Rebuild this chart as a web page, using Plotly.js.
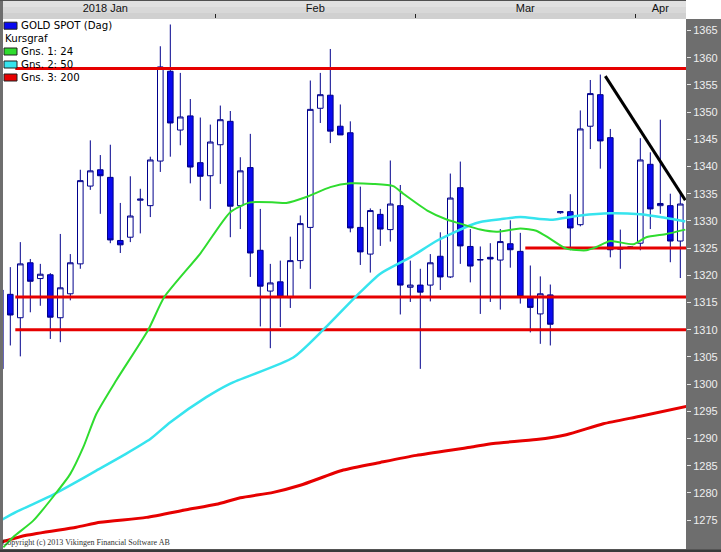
<!DOCTYPE html>
<html><head><meta charset="utf-8">
<script src="https://cdn.plot.ly/plotly-3.0.1.min.js"></script>
<style>html,body{margin:0;padding:0;background:#fff}#chart{width:721px;height:552px}</style>
</head><body><div id="chart"></div>
<script>
// ---- data ----
const dates = ['2018-01-02','2018-01-03','2018-01-04','2018-01-05','2018-01-08','2018-01-09','2018-01-10','2018-01-11','2018-01-12','2018-01-15','2018-01-16','2018-01-17','2018-01-18','2018-01-19','2018-01-22','2018-01-23','2018-01-24','2018-01-25','2018-01-26','2018-01-29','2018-01-30','2018-01-31',
'2018-02-01','2018-02-02','2018-02-05','2018-02-06','2018-02-07','2018-02-08','2018-02-09','2018-02-12','2018-02-13','2018-02-14','2018-02-15','2018-02-16','2018-02-19','2018-02-20','2018-02-21','2018-02-22','2018-02-23','2018-02-26','2018-02-27','2018-02-28',
'2018-03-01','2018-03-02','2018-03-05','2018-03-06','2018-03-07','2018-03-08','2018-03-09','2018-03-12','2018-03-13','2018-03-14','2018-03-15','2018-03-16','2018-03-19','2018-03-20','2018-03-21','2018-03-22','2018-03-23','2018-03-26','2018-03-27','2018-03-28','2018-03-29','2018-03-30',
'2018-04-02','2018-04-03','2018-04-04','2018-04-05','2018-04-06'];
const monthLabels = ['2018 Jan','Feb','Mar','Apr'];
const openP  = [1302.8,1316.5,1312.2,1322.3,1319.4,1320.1,1312.2,1316.6,1322.1,1336.4,1339.4,1338.0,1326.4,1327.0,1333.8,1332.8,1341.0,1357.5,1346.7,1349.3,1340.7,1338.3,
1344.0,1348.3,1332.8,1339.8,1324.6,1317.1,1318.8,1315.9,1322.7,1328.8,1350.7,1353.1,1347.4,1346.2,1328.8,1323.9,1331.2,1328.4,1332.8,1317.8,
1318.2,1318.2,1323.5,1319.7,1336.1,1325.3,1322.8,1323.3,1322.8,1325.8,1324.4,1316.1,1312.9,1316.4,1331.5,1331.7,1329.3,1347.4,1353.2,1345.3,1324.8,1325.0,
1325.9,1340.4,1332.8,1332.8,1326.3];
const highP  = [1318.5,1321.5,1326.1,1323.0,1322.1,1320.4,1327.6,1323.9,1339.4,1344.8,1342.1,1344.0,1333.3,1338.2,1335.9,1341.8,1362.1,1366.1,1357.2,1352.4,1349.0,1347.7,
1351.2,1350.2,1341.7,1346.0,1332.2,1322.1,1322.7,1327.1,1331.0,1355.8,1357.2,1361.6,1351.4,1348.3,1336.3,1332.3,1332.2,1341.1,1336.6,1322.7,
1321.2,1323.9,1327.9,1338.7,1340.9,1328.5,1325.3,1325.9,1328.5,1330.1,1327.8,1321.8,1319.8,1318.3,1331.8,1334.9,1350.3,1355.9,1356.9,1346.9,1328.4,1325.3,
1345.2,1342.6,1348.6,1335.0,1335.0];
const lowP   = [1301.5,1307.1,1305.1,1313.2,1314.4,1308.3,1307.7,1315.4,1321.2,1335.7,1331.3,1325.9,1324.1,1326.1,1327.7,1330.7,1339.0,1341.8,1343.9,1336.9,1333.7,1332.2,
1336.8,1327.0,1328.5,1319.7,1310.6,1306.6,1310.5,1314.0,1321.2,1317.5,1348.0,1344.3,1345.8,1327.9,1321.9,1320.5,1325.4,1326.2,1312.8,1315.1,
1302.8,1315.2,1317.3,1319.5,1322.1,1318.7,1312.9,1315.1,1313.7,1321.4,1314.8,1309.5,1307.4,1307.1,1331.3,1324.6,1329.0,1343.2,1339.6,1323.3,1321.2,1324.9,
1324.6,1328.5,1331.3,1322.4,1319.5];
const closeP = [1317.3,1312.7,1322.1,1318.9,1320.2,1312.3,1317.7,1322.3,1337.4,1339.2,1338.3,1326.5,1325.6,1330.9,1334.0,1341.2,1358.3,1348.0,1349.1,1339.9,1338.2,1344.5,
1348.6,1332.7,1339.2,1324.1,1318.0,1318.6,1316.0,1322.7,1329.5,1350.5,1353.2,1346.5,1345.8,1328.7,1324.3,1331.9,1328.5,1333.1,1318.2,1318.2,
1316.9,1322.3,1319.7,1334.2,1325.4,1321.7,1322.9,1323.0,1326.2,1324.7,1316.1,1314.1,1316.6,1311.0,1331.7,1328.7,1346.9,1353.4,1344.7,1324.7,1325.1,1325.2,
1341.2,1332.2,1333.2,1326.3,1333.1];

// moving averages (read at positions along the candle index)
const ma24X = [0.3,1.3,3.3,5.5,7.0,8.3,9.6,11.6,14.8,16.4,20.0,23.0,25.0,27.5,28.6,30.6,33.0,35.0,37.3,39.3,40.3,42.7,44.7,46.0,48.0,49.6,52.0,53.6,55.0,56.6,58.6,59.6,61.0,63.3,64.6,66.6,68.5];
const ma24Y = [1270.0,1271.9,1274.9,1279.8,1283.5,1288.4,1294.5,1300.7,1310.0,1316.0,1324.0,1331.6,1333.4,1333.4,1333.3,1334.4,1336.2,1336.9,1336.8,1336.4,1335.0,1331.9,1330.2,1329.5,1328.4,1328.0,1328.6,1328.2,1326.7,1324.9,1324.6,1325.2,1326.3,1325.7,1327.0,1327.6,1328.4];
const ma50X = [0,1.6,5.3,7.3,9.6,12.3,15.0,17.0,20.6,23.0,29.3,32.3,35.5,38.0,41.0,43.7,47.0,48.0,50.0,52.0,55.0,58.0,61.0,64.0,66.0,68.5];
const ma50Y = [1274.9,1276.5,1279.7,1281.7,1284.1,1286.9,1289.9,1293.0,1297.6,1300.1,1304.9,1310.0,1316.0,1320.3,1323.3,1326.4,1329.2,1329.8,1330.3,1330.7,1330.2,1331.0,1331.4,1331.2,1330.7,1329.9];
const ma200X = [0,2.6,7.6,10.0,14.6,18.6,21.6,24.0,27.3,30.0,34.3,38.0,41.6,47.0,49.3,53.6,56.6,60.3,64.0,68.6];
const ma200Y = [1270.9,1272.2,1273.7,1274.6,1275.5,1276.9,1277.9,1279.1,1280.1,1281.4,1284.2,1285.6,1286.9,1288.4,1289.1,1289.8,1290.7,1292.7,1294.1,1295.9];

// horizontal support / resistance levels and trend line
const levelValues = [1358, 1316, 1310, 1325];
const levelFrom   = [1.5, 1.5, 1.5, 52.5];
const trendX = [60.5, 68.5];
const trendY = [1356.6, 1333.8];

const yTicks = [1275,1280,1285,1290,1295,1300,1305,1310,1315,1320,1325,1330,1335,1340,1345,1350,1355,1360,1365];
const legendNames = ['GOLD SPOT (Dag)','Kursgraf','Gns. 1: 24','Gns. 2: 50','Gns. 3: 200'];

// ---- derived ----
const idx = dates.map((d,i)=>i);
const months = [];
dates.forEach((d,i)=>{const m=d.slice(0,7);
  if(!months.length||months[months.length-1].key!==m) months.push({key:m,first:i,last:i});
  else months[months.length-1].last=i;});
const monthCenters = months.map(m=>(m.first+m.last)/2);
const monthBounds = months.slice(1).map(m=>m.first-0.5);
const xEnd = idx[idx.length-1]+2;

// ---- styles ----
const W=721,H=552,ML=3,MR=35,MT=19,MB=3;
const PW=W-ML-MR, PH=H-MT-MB;
const px=x=>(x-ML)/PW, py=y=>1-(y-MT)/PH;
const FONT='"Liberation Sans", Arial, sans-serif';
const LEGFONT='"DejaVu Sans", Verdana, sans-serif';
const RED='#e60000', GREEN='#2fdc2f', CYAN='#36e4ee', BLUE='#0a0af0', NAVY='#00008c';
const xRange=[0.27,68.57], yRange=[1269.69,1367.11];

const traces=[];
traces.push({type:'candlestick',x:idx,open:openP,high:highP,low:lowP,close:closeP,
  increasing:{line:{color:NAVY,width:1},fillcolor:'#ffffff'},
  decreasing:{line:{color:NAVY,width:1},fillcolor:BLUE},
  whiskerwidth:0,showlegend:false,hoverinfo:'skip'});
levelValues.forEach((v,i)=>traces.push({type:'scatter',mode:'lines',x:[levelFrom[i],xEnd],y:[v,v],
  line:{color:RED,width:3},showlegend:false,hoverinfo:'skip'}));
traces.push({type:'scatter',mode:'lines',x:ma200X,y:ma200Y,line:{color:RED,width:3,shape:'spline',smoothing:0.6},showlegend:false,hoverinfo:'skip'});
traces.push({type:'scatter',mode:'lines',x:ma50X,y:ma50Y,line:{color:CYAN,width:2.5,shape:'spline',smoothing:0.6},showlegend:false,hoverinfo:'skip'});
traces.push({type:'scatter',mode:'lines',x:ma24X,y:ma24Y,line:{color:GREEN,width:2,shape:'spline',smoothing:0.6},showlegend:false,hoverinfo:'skip'});
traces.push({type:'scatter',mode:'lines',x:trendX,y:trendY,line:{color:'#000',width:3},showlegend:false,hoverinfo:'skip'});
traces.push({type:'scatter',mode:'markers',x:[null],y:[null],xaxis:'x2',showlegend:false,hoverinfo:'skip'});

const shapes=[
  {type:'rect',xref:'paper',yref:'paper',x0:px(3),x1:px(686),y0:py(19),y1:py(0),fillcolor:'#d0d0d0',line:{width:0},layer:'below'},
  {type:'rect',xref:'paper',yref:'paper',x0:px(3),x1:px(686),y0:py(13),y1:py(1),fillcolor:'#d8d8d8',line:{width:0},layer:'below'},
  {type:'rect',xref:'paper',yref:'paper',x0:px(3),x1:px(686),y0:py(7),y1:py(1),fillcolor:'#e0e0e0',line:{width:0},layer:'below'},
  {type:'rect',xref:'paper',yref:'paper',x0:px(0),x1:px(686),y0:py(1),y1:py(0),fillcolor:'#505050',line:{width:0},layer:'below'},
  {type:'rect',xref:'paper',yref:'paper',x0:px(686),x1:px(721),y0:py(19),y1:py(0),fillcolor:'#ffffff',line:{width:0},layer:'below'},
  {type:'rect',xref:'paper',yref:'paper',x0:px(0),x1:px(721),y0:py(552),y1:py(549.5),fillcolor:'#3a3a3a',line:{width:0},layer:'below'}
];
const legendColors=[BLUE,null,GREEN,CYAN,RED];
const rowY=[25.7,38.5,51.5,64.5,77.5];
const annotations=[];
legendNames.forEach((n,i)=>{
  if(legendColors[i]) shapes.push({type:'rect',xref:'paper',yref:'paper',x0:px(4),x1:px(17),
    y0:py(rowY[i]+3.5),y1:py(rowY[i]-3.5),fillcolor:legendColors[i],line:{color:'#202020',width:1},layer:'above'});
  annotations.push({xref:'paper',yref:'paper',x:px(i===1?3:19),y:py(rowY[i]),xanchor:'left',yanchor:'middle',
    text:n,showarrow:false,font:{family:LEGFONT,size:10.2,color:'#000'}});
});
annotations.push({xref:'paper',yref:'paper',x:px(0),y:py(549),xanchor:'left',yanchor:'bottom',
  text:'Copyright (c) 2013 Vikingen Financial Software AB',showarrow:false,
  font:{family:'"Liberation Serif", "Times New Roman", serif',size:8,color:'#333'}});

const layout={width:W,height:H,margin:{l:ML,r:MR,t:MT,b:MB,pad:0},
  paper_bgcolor:'#6e6e6e',plot_bgcolor:'#ffffff',showlegend:false,boxgap:0.2,
  xaxis:{range:xRange,side:'top',showgrid:false,zeroline:false,showline:false,
    tickvals:monthBounds,ticktext:monthBounds.map(()=>''),ticks:'outside',ticklen:4,tickwidth:1,tickcolor:'#222',
    rangeslider:{visible:false},fixedrange:true},
  xaxis2:{range:xRange,overlaying:'x',anchor:'y',side:'top',showgrid:false,zeroline:false,showline:false,
    tickvals:monthCenters,ticktext:monthLabels,ticks:'',ticklabelstandoff:4,
    tickfont:{family:FONT,size:11,color:'#111'},fixedrange:true},
  yaxis:{range:yRange,side:'right',showgrid:false,zeroline:false,showline:false,
    tickvals:yTicks,ticktext:yTicks.map(String),ticks:'outside',ticklen:4,tickwidth:1,tickcolor:'#e6e6e6',
    tickfont:{family:FONT,size:11,color:'#eeeeee'},fixedrange:true},
  shapes:shapes,annotations:annotations};
Plotly.newPlot('chart',traces,layout,{displayModeBar:false,staticPlot:true});
</script></body></html>
